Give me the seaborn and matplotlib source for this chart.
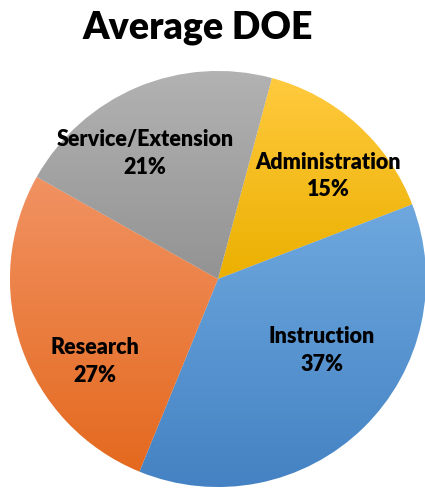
import numpy as np
import matplotlib.pyplot as plt
import matplotlib.colors as mcolors
import seaborn as sns

# date
categorii = ['Administration', 'Instruction', 'Research', 'Service/Extension']
procente = [15, 37, 27, 21]
culori_sus = ['#FFCA3E', '#6EA8DE', '#F19262', '#B2B2B2']
culori_jos = ['#EBB000', '#4482C3', '#E4691E', '#939393']

# pozitii etichete (x, y in unitati de raza)
pozitii = [(0.53, 0.50), (0.50, -0.34), (-0.59, -0.39), (-0.35, 0.61)]

sns.set_style('white')
plt.rcParams['font.family'] = ['Lato', 'DejaVu Sans']

W, H = 425, 489
fig = plt.figure(figsize=(W / 100, H / 100), dpi=100)
cx, cy, r = 218, 280, 208
ax = fig.add_axes([(cx - r) / W, (H - cy - r) / H, 2 * r / W, 2 * r / H])

wedges, _ = ax.pie(procente, startangle=75, counterclock=False,
                   colors=culori_sus, wedgeprops=dict(linewidth=0.6, edgecolor='white'))

# gradient vertical pe fiecare felie
for w, c1, c2 in zip(wedges, culori_sus, culori_jos):
    bb = w.get_path().get_extents()
    cmap = mcolors.LinearSegmentedColormap.from_list('g', [c2, c1])
    grad = np.linspace(0, 1, 256).reshape(-1, 1)
    im = ax.imshow(grad, cmap=cmap, aspect='auto', origin='lower',
                   extent=[bb.x0, bb.x1, bb.y0, bb.y1], zorder=w.get_zorder() + 0.1)
    im.set_clip_path(w)

for (x, y), nume, p in zip(pozitii, categorii, procente):
    ax.text(x, y, f'{nume}\n{p}%', ha='center', va='center', fontsize=15.5,
            fontweight='heavy', linespacing=1.4, color='black', zorder=10)

ax.set_xlim(-1, 1)
ax.set_ylim(-1, 1)
ax.set_axis_off()

fig.text(198 / W, 1 - 28 / H, 'Average DOE', ha='center', va='center',
         fontsize=27, fontweight='heavy', color='black')

fig.savefig('out.png', dpi=100)
